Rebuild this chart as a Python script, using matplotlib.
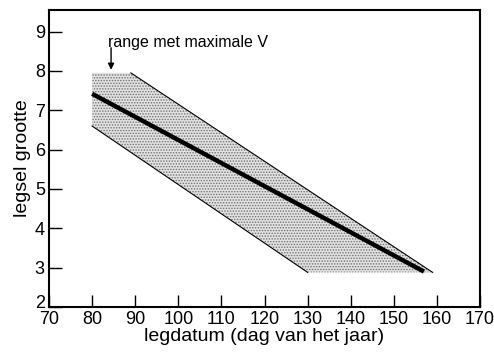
import matplotlib
matplotlib.use("Agg")
import matplotlib.pyplot as plt
import matplotlib.transforms as mtransforms
import numpy as np

plt.rcParams['font.family'] = ['Liberation Sans', 'DejaVu Sans']
plt.rcParams['hatch.linewidth'] = 0.7

# range band outline (legdatum, legsel grootte)
band_x = [80, 89, 159, 130, 80]
band_y = [7.95, 7.95, 2.88, 2.88, 6.6]
upper_x = [89, 159]
upper_y = [7.95, 2.88]
lower_x = [80, 130]
lower_y = [6.6, 2.88]

# mean clutch size line
line_x = [80, 157]
line_y = [7.42, 2.9]

xticks = np.arange(70, 171, 10)
yticks = np.arange(2, 10)

fig = plt.figure(figsize=(4.94, 3.54), dpi=100)
ax = fig.add_axes([0.0992, 0.1328, 0.8725, 0.839])

# stippled band: light fill plus dot hatch drawn in the edge colour
ax.fill(band_x, band_y, facecolor='#e2e2e2', edgecolor='#707070',
        hatch='......', linewidth=0)
ax.plot(upper_x, upper_y, color='black', lw=0.8)
ax.plot(lower_x, lower_y, color='black', lw=0.8)
ax.plot(line_x, line_y, color='black', lw=3.2, solid_capstyle='butt')

ax.text(83.7, 8.62, 'range met maximale V', fontsize=11.5, ha='left', va='baseline')
ax.annotate('', xy=(84.4, 8.03), xytext=(84.4, 8.59),
            arrowprops=dict(arrowstyle='-|>', color='black', lw=1.0,
                            mutation_scale=9, shrinkA=0, shrinkB=0))

ax.set_xlim(70, 170)
ax.set_ylim(2, 9.55)
ax.set_xticks(xticks)
ax.set_yticks(yticks)
ax.tick_params(direction='in', length=9, width=1, labelsize=13, pad=3)
for s in ax.spines.values():
    s.set_linewidth(1.5)

# lift the bottom y label a little so it clears the "70" below it
lbl = ax.get_yticklabels()[0]
lbl.set_transform(lbl.get_transform() +
                  mtransforms.ScaledTranslation(0, 4 / 72, fig.dpi_scale_trans))

ax.set_xlabel('legdatum (dag van het jaar)', fontsize=14, labelpad=0)
ax.set_ylabel('legsel grootte', fontsize=14, labelpad=3)

fig.savefig('out.png', dpi=100)
